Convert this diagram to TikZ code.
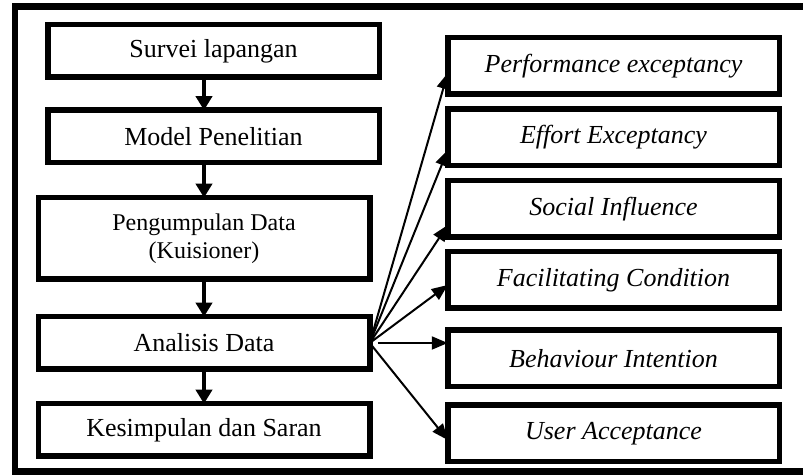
\documentclass[tikz,border=0pt]{standalone}
\usepackage{fontspec}
\setmainfont{Liberation Serif}
\usepackage{tkz-graph}
\usetikzlibrary{arrows.meta}

\begin{document}
\begin{tikzpicture}[x=0.5pt,y=-0.5pt]
    \useasboundingbox (0,0) rectangle (803,475);
    \draw[line width=3.25pt] (15,6.5) rectangle (815,471.5);

    \tikzset{VertexStyle/.style={draw, rectangle, fill=white, line width=2.75pt,
        minimum width=165.75pt, minimum height=26.25pt, inner sep=0pt,
        align=center, font=\fontsize{13}{15.6}\selectfont}}
    \tikzset{LabelStyle/.style={draw=none, fill=none, inner sep=0pt}}
    \Vertex[x=213.5, y=51, L={Survei lapangan}] {S}
    \Vertex[x=213.5, y=136.5, L={Model Penelitian}] {M}
    \Vertex[x=204, y=343, L={Analisis Data}] {A}
    \Vertex[x=204, y=430, L={Kesimpulan dan Saran}] {K}

    \tikzset{VertexStyle/.append style={minimum height=40.75pt, font=\fontsize{12}{14}\selectfont}}
    \Vertex[x=204, y=238.5, L={Pengumpulan Data\\(Kuisioner)}] {P}

    \tikzset{VertexStyle/.append style={minimum height=28.25pt, font=\fontsize{13}{15.6}\itshape}}
    \Vertex[x=613.5, y=66, L={Performance exceptancy}] {PE}
    \Vertex[x=613.5, y=137.5, L={Effort Exceptancy}] {EE}
    \Vertex[x=613.5, y=209, L={Social Influence}] {SI}
    \Vertex[x=613.5, y=280, L={Facilitating Condition}] {FC}
    \Vertex[x=613.5, y=358.5, L={Behaviour Intention}] {BI}
    \Vertex[x=613.5, y=433.5, L={User Acceptance}] {UA}

    \tikzset{EdgeStyle/.style={line width=2.4pt, -{Triangle[length=7pt, width=8pt]}}}
    \Edge(S.south -| P.north)(M.north -| P.north)
    \Edge(M.south -| P.north)(P.north)
    \Edge(P)(A)
    \Edge(A)(K)

    \tikzset{EdgeStyle/.style={line width=1pt, -{Triangle[length=8pt, width=6.5pt]}}}
    \Edge(A.east)([yshift=-3.5pt]PE.west)
    \Edge(A.east)([yshift=-6.25pt]EE.west)
    \Edge(A.east)([yshift=-8pt]SI.west)
    \Edge(A.east)([yshift=-2.5pt]FC.west)
    \Edge([xshift=4pt]A.east)(A.east -| BI.west)
    \Edge(A.east)([yshift=-3.25pt]UA.west)
\end{tikzpicture}
\end{document}
